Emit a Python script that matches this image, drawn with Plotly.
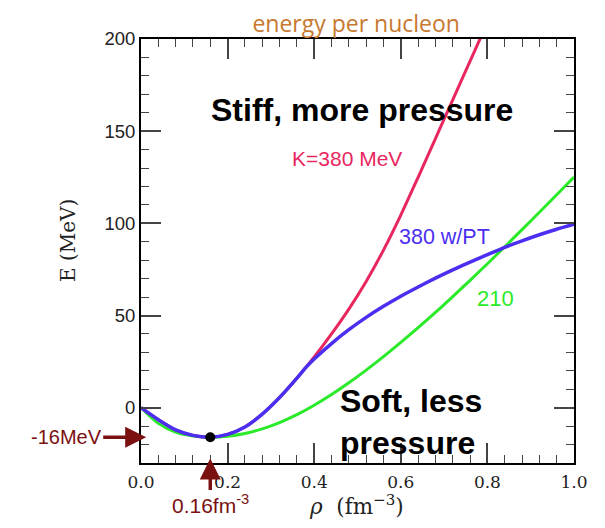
import plotly.graph_objects as go

# ---- data ----
rho_red = [0.0, 0.04, 0.08, 0.12, 0.16, 0.2, 0.24, 0.28, 0.32, 0.36, 0.4, 0.44, 0.48, 0.52,
           0.56, 0.6, 0.64, 0.68, 0.72, 0.76, 0.8]
e_red = [0.0, -6.5, -12.0, -15.0, -16.0, -14.5, -10.5, -3.5, 5.5, 16.0, 27.5, 40.0, 53.5, 68.5,
         85.5, 104.5, 125.0, 146.0, 167.0, 188.0, 209.0]

rho_blue = [0.0, 0.04, 0.08, 0.12, 0.16, 0.2, 0.24, 0.28, 0.32, 0.36, 0.38, 0.4, 0.44, 0.48,
            0.52, 0.56, 0.6, 0.64, 0.68, 0.72, 0.76, 0.8, 0.84, 0.88, 0.92, 0.96, 1.0]
e_blue = [0.0, -6.5, -12.0, -15.0, -16.0, -14.5, -10.5, -3.5, 5.5, 16.0, 21.6, 26.4, 34.8, 42.3,
          49.0, 55.0, 60.5, 65.5, 70.3, 74.8, 79.0, 83.0, 87.0, 90.5, 93.8, 96.8, 99.5]

rho_green = [0.0, 0.04, 0.08, 0.12, 0.16, 0.2, 0.24, 0.28, 0.32, 0.36, 0.4, 0.44, 0.48, 0.52,
             0.56, 0.6, 0.64, 0.68, 0.72, 0.76, 0.8, 0.84, 0.88, 0.92, 0.96, 1.0]
e_green = [0.0, -8.5, -13.3, -15.4, -16.0, -15.5, -14.0, -11.5, -8.1, -3.8, 1.3, 7.1, 13.5, 20.4,
           27.7, 35.4, 43.4, 51.7, 60.3, 69.1, 78.1, 87.3, 96.6, 106.0, 115.5, 125.1]

sat_rho = [0.16]
sat_e = [-16.0]

x_ticks = [0.0, 0.2, 0.4, 0.6, 0.8, 1.0]
y_ticks = [0, 50, 100, 150, 200]

RED = "#e8275f"
BLUE = "#4a2ff0"
GREEN = "#2aea2a"
DARK = "#7a1010"

fig = go.Figure()
fig.add_trace(go.Scatter(x=rho_green, y=e_green, mode="lines", line=dict(color=GREEN, width=3, shape="spline", smoothing=0.8)))
fig.add_trace(go.Scatter(x=rho_red, y=e_red, mode="lines", line=dict(color=RED, width=3, shape="spline", smoothing=0.8)))
fig.add_trace(go.Scatter(x=rho_blue, y=e_blue, mode="lines", line=dict(color=BLUE, width=3.5, shape="spline", smoothing=0.7)))
fig.add_trace(go.Scatter(x=sat_rho, y=sat_e, mode="markers", marker=dict(color="black", size=10)))

fig.update_layout(
    width=605, height=528,
    margin=dict(l=133, r=39, t=31, b=73),
    paper_bgcolor="white", plot_bgcolor="white",
    showlegend=False,
    title=dict(text="energy per nucleon", xref="paper", x=0.497, xanchor="center",
               yref="container", y=0.97, yanchor="middle",
               font=dict(family="Open Sans", size=23, color="#c8782f")),
    xaxis=dict(range=[0, 1.0], tickvals=x_ticks, ticktext=[f"{v:.1f}" for v in x_ticks],
               ticks="inside", ticklen=20, tickwidth=1.5, tickcolor="#444",
               showline=True, linecolor="black", linewidth=2, mirror="ticks",
               showgrid=False, zeroline=False, ticklabelstandoff=3,
               tickfont=dict(family="DejaVu Serif", size=17, color="#222"),
               minor=dict(ticks="inside", ticklen=8, dtick=0.04, tick0=0, tickcolor="#444", tickwidth=1.2)),
    yaxis=dict(range=[-30, 200], tickvals=y_ticks,
               ticks="inside", ticklen=20, tickwidth=1.5, tickcolor="#444",
               showline=True, linecolor="black", linewidth=2, mirror="ticks",
               showgrid=False, zeroline=False,
               tickfont=dict(family="Liberation Sans", size=18.5, color="#222"),
               minor=dict(ticks="inside", ticklen=8, dtick=10, tick0=0, tickcolor="#444", tickwidth=1.2)),
)

ann = [
    dict(text="E (MeV)", xref="paper", yref="paper", x=-0.168, y=0.524, showarrow=False, textangle=-90,
         xanchor="center", yanchor="middle",
         font=dict(family="DejaVu Serif", size=20, color="#222")),
    dict(text="<i>ρ</i>  (fm<sup>−3</sup>)", xref="paper", yref="paper", x=0.497, y=-0.1, showarrow=False,
         xanchor="center", yanchor="middle",
         font=dict(family="DejaVu Serif", size=21.5, color="#222")),
    dict(text="<b>Stiff, more pressure</b>", x=0.51, y=161.5, showarrow=False,
         xanchor="center", yanchor="middle",
         font=dict(family="Liberation Sans", size=32, color="black")),
    dict(text="K=380 MeV", x=0.476, y=135, showarrow=False, xanchor="center", yanchor="middle",
         font=dict(family="Liberation Sans", size=21, color=RED)),
    dict(text="380 w/PT", x=0.7, y=92.5, showarrow=False, xanchor="center", yanchor="middle",
         font=dict(family="Liberation Sans", size=21.5, color=BLUE)),
    dict(text="210", x=0.818, y=59, showarrow=False, xanchor="center", yanchor="middle",
         font=dict(family="Liberation Sans", size=22, color=GREEN)),
    dict(text="<b>Soft, less<br>pressure</b>", x=0.455, y=-8, showarrow=False, xanchor="left",
         yanchor="middle", align="left",
         font=dict(family="Liberation Sans", size=32, color="black")),
    dict(text="-16MeV", x=0.012, y=-16, ax=-80, ay=0, showarrow=True, arrowhead=2, arrowsize=1.2,
         arrowwidth=3.5, arrowcolor=DARK, font=dict(family="Liberation Sans", size=20, color=DARK)),
    dict(text="0.16fm<sup>-3</sup>", x=0.16, y=-27.5, ax=0, ay=46, showarrow=True, arrowhead=2, arrowsize=1.2,
         arrowwidth=3.5, arrowcolor=DARK, font=dict(family="Liberation Sans", size=21, color=DARK)),
]
fig.update_layout(annotations=ann)

fig.write_html("out.html")
